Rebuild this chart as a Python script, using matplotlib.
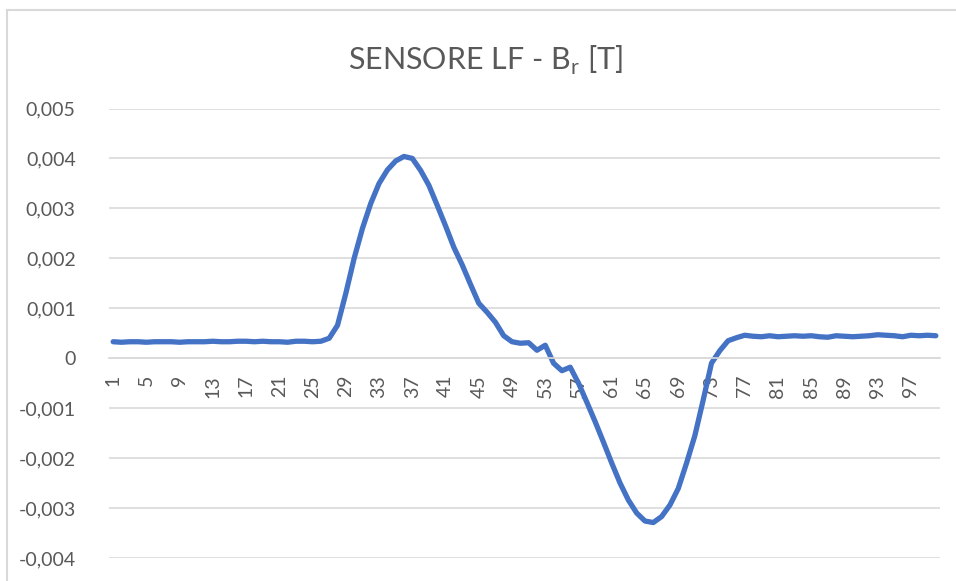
import numpy as np
import matplotlib.pyplot as plt
from matplotlib.lines import Line2D

# -- dati del sensore LF (campioni 1..100)
campioni = list(range(1, 101))
br = [
    0.00033, 0.00032, 0.00033, 0.00033, 0.00032, 0.00033, 0.00033, 0.00033, 0.00032, 0.00033,
    0.00033, 0.00033, 0.00034, 0.00033, 0.00033, 0.00034, 0.00034, 0.00033, 0.00034, 0.00033,
    0.00033, 0.00032, 0.00034, 0.00034, 0.00033, 0.00034, 0.00040, 0.00066, 0.00130, 0.00200,
    0.00260, 0.00310, 0.00350, 0.00377, 0.00395, 0.00404, 0.00400, 0.00376, 0.00346, 0.00306,
    0.00265, 0.00222, 0.00187, 0.00148, 0.00110, 0.00092, 0.00072, 0.00045, 0.00033, 0.00030,
    0.00031, 0.00016, 0.00026, -0.00010, -0.00025, -0.00018, -0.00050, -0.00088, -0.00127, -0.00168,
    -0.00210, -0.00250, -0.00284, -0.00310, -0.00326, -0.00329, -0.00317, -0.00294, -0.00261, -0.00210,
    -0.00155, -0.00084, -0.00010, 0.00015, 0.00035, 0.00041, 0.00046, 0.00044, 0.00043, 0.00045,
    0.00043, 0.00044, 0.00045, 0.00044, 0.00045, 0.00043, 0.00042, 0.00045, 0.00044, 0.00043,
    0.00044, 0.00045, 0.00047, 0.00046, 0.00045, 0.00043, 0.00046, 0.00045, 0.00046, 0.00045,
]
y_ticks = [-0.004, -0.003, -0.002, -0.001, 0, 0.001, 0.002, 0.003, 0.004, 0.005]
y_labels = ['-0,004', '-0,003', '-0,002', '-0,001', '0', '0,001', '0,002', '0,003', '0,004', '0,005']
x_ticks = campioni[::4]

plt.rcParams['font.family'] = ['Lato', 'DejaVu Sans']
grigio = '#595959'

W, H = 956, 581
fig = plt.figure(figsize=(W / 100, H / 100), dpi=100)
ax = fig.add_axes([109 / W, 1 - 558 / H, 831 / W, 449.5 / H])

ax.plot(campioni, br, color='#4472C4', lw=3.8, solid_joinstyle='round', solid_capstyle='round')

# -- asse x sullo zero (va fatto prima delle etichette, set_position azzera i tick)
for s in ['top', 'right', 'left']:
    ax.spines[s].set_visible(False)
ax.spines['bottom'].set_position(('data', 0))
ax.spines['bottom'].set_color('#d9d9d9')
ax.spines['bottom'].set_linewidth(1.2)

ax.set_xlim(0.5, 100.5)
ax.set_ylim(-0.004, 0.005)
ax.set_yticks(y_ticks)
ax.set_yticklabels(y_labels)
ax.set_xticks(x_ticks)
ax.set_xticklabels([str(v) for v in x_ticks])

ax.grid(axis='y', color='#d9d9d9', lw=1.2)
ax.set_axisbelow(True)
ax.tick_params(axis='y', length=0, pad=24, labelsize=14, labelcolor=grigio)
ax.tick_params(axis='x', length=0, pad=12, labelsize=14, labelcolor=grigio, labelrotation=90)

# -- titolo e bordo del grafico
fig.text(486 / W, 1 - 60 / H, 'SENSORE LF - B$_\\mathregular{r}$ [T]', ha='center', va='center',
         fontsize=22, color=grigio)
fig.add_artist(Line2D([7 / W, 1], [1 - 10 / H, 1 - 10 / H], color='#d9d9d9', lw=1.5))
fig.add_artist(Line2D([7 / W, 7 / W], [0, 1 - 10 / H], color='#d9d9d9', lw=1.5))

fig.savefig('out.png', dpi=100)
